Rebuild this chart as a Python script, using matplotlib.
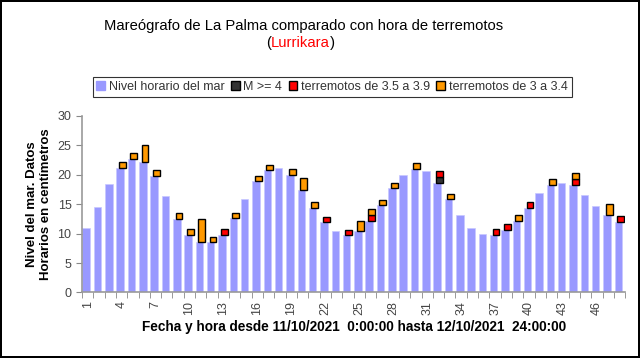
import numpy as np
import matplotlib.pyplot as plt
from matplotlib.patches import Patch

plt.rcParams["font.family"] = ["Liberation Sans", "DejaVu Sans"]

# hourly sea level (cm), hours 1..48
hours = np.arange(1, 49)
nivel = [11.0, 14.5, 18.4, 21.2, 22.7, 22.2, 19.8, 16.3, 12.4, 9.7, 8.5, 8.5,
         9.7, 12.7, 15.8, 18.9, 20.7, 21.2, 20.0, 17.4, 14.4, 11.9, 10.4, 9.7,
         10.4, 12.1, 14.8, 17.7, 20.0, 20.9, 20.6, 18.5, 15.8, 13.1, 11.0, 9.9,
         9.7, 10.6, 12.1, 14.4, 16.8, 18.25, 18.6, 18.25, 16.6, 14.6, 13.1, 11.9]

# earthquake markers stacked on top of the bars (segment heights)
m4 = [0] * 31 + [1.1] + [0] * 16
m35 = [0, 0, 0, 0, 0, 0, 0, 0, 0, 0, 0, 0,
       1.05, 0, 0, 0, 0, 0, 0, 0, 0, 0.95, 0, 0.95,
       0, 1.1, 0, 0, 0, 0, 0, 1.0, 0, 0, 0, 0,
       1.0, 1.05, 0, 1.0, 0, 0, 0, 0.95, 0, 0, 0, 1.0]
m3 = [0, 0, 0, 0.9, 0.9, 2.8, 0.9, 0, 1.1, 1.0, 3.9, 0.9,
      0, 0.8, 0, 0.9, 1.0, 0, 0.9, 2.0, 1.0, 0, 0, 0,
      1.8, 0.9, 0.9, 0.9, 0, 1.0, 0, 0, 0.9, 0, 0, 0,
      0, 0, 1.1, 0, 0, 1.0, 0, 1.1, 0, 0, 1.9, 0]

tick_labels = [str(h) for h in hours[::3]]

fig = plt.figure(figsize=(6.4, 3.58), dpi=100, linewidth=1.5, edgecolor="black")
ax = fig.add_axes([0.128, 0.183, 0.849, 0.494])

bar_col = "#9999FF"
ax.bar(hours - 0.12, nivel, width=0.66, color=bar_col, edgecolor="#c8c8ff", linewidth=0.5)

base = np.array(nivel, dtype=float)
for vals, col in [(m4, "#333333"), (m35, "#FF0000"), (m3, "#FF9900")]:
    vals = np.array(vals, dtype=float)
    mask = vals > 0
    ax.bar(hours[mask] + 0.08, vals[mask], bottom=base[mask], width=0.6,
           color=col, edgecolor="black", linewidth=1.0)
    base = base + vals

ax.set_xlim(0.5, 48.5)
ax.set_ylim(0, 30)
ax.set_yticks(range(0, 31, 5))
ax.tick_params(axis="y", labelsize=9, labelcolor="#444444", color="#888888", length=4)
ax.set_xticks(hours[::3])
ax.set_xticklabels(tick_labels, rotation=90, fontsize=9, color="#444444")
ax.set_xticks(np.arange(0.5, 49, 1), minor=True)
ax.tick_params(axis="x", which="major", length=0, pad=6)
ax.tick_params(axis="x", which="minor", length=4, color="#888888")
for s in ["top", "right"]:
    ax.spines[s].set_visible(False)
for s in ["left", "bottom"]:
    ax.spines[s].set_color("#999999")
    ax.spines[s].set_linewidth(1.2)

ax.set_ylabel("Nivel del mar. Datos\nHorarios en centímetros", fontsize=9.5,
              fontweight="bold", labelpad=4)
ax.set_xlabel("Fecha y hora desde 11/10/2021  0:00:00 hasta 12/10/2021  24:00:00",
              fontsize=9.8, fontweight="bold", labelpad=4)

fig.text(0.474, 0.928, "Mareógrafo de La Palma comparado con hora de terremotos",
         ha="center", va="center", fontsize=10.6)
mid = fig.text(0.469, 0.881, "Lurrikara", ha="center", va="center", fontsize=10.6,
               color="#FF0000")
r = fig.canvas.get_renderer()
bb = mid.get_window_extent(renderer=r).transformed(fig.transFigure.inverted())
fig.text(bb.x0, 0.881, "(", ha="right", va="center", fontsize=10.6)
fig.text(bb.x1, 0.881, ")", ha="left", va="center", fontsize=10.6)

handles = [Patch(color=bar_col, label="Nivel horario del mar"),
           Patch(facecolor="#333333", edgecolor="black", label="M >= 4"),
           Patch(facecolor="#FF0000", edgecolor="black", label="terremotos de 3.5 a 3.9"),
           Patch(facecolor="#FF9900", edgecolor="black", label="terremotos de 3 a 3.4")]
leg = fig.legend(handles=handles, loc="center", bbox_to_anchor=(0.519, 0.757), ncol=4,
                 fontsize=9, frameon=True, fancybox=False, handlelength=0.7,
                 handleheight=0.7, handletextpad=0.3, columnspacing=0.5,
                 borderpad=0.3, borderaxespad=0)
leg.get_frame().set_edgecolor("black")
leg.get_frame().set_linewidth(0.8)
for t in leg.get_texts():
    t.set_color("#333333")

fig.savefig("out.png", dpi=100)
